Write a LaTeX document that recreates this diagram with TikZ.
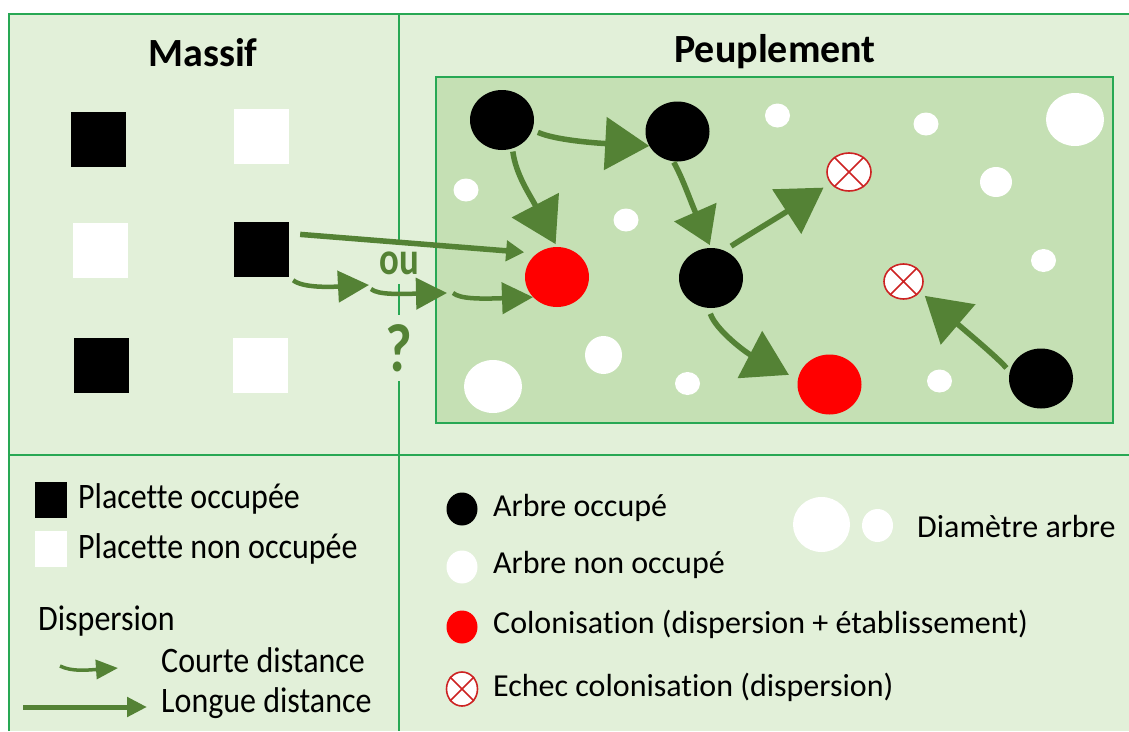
\documentclass[tikz,border=0pt]{standalone}
\usepackage{fontspec}
\setmainfont{Carlito}[Ligatures=NoCommon]
\usetikzlibrary{shapes.geometric,arrows.meta}
\definecolor{bggreen}{RGB}{226,240,217}
\definecolor{innergreen}{RGB}{197,224,180}
\definecolor{framegreen}{RGB}{40,168,84}
\definecolor{arrowgreen}{RGB}{84,130,53}
\definecolor{failred}{RGB}{205,35,35}
\tikzset{
  frameline/.style={draw=framegreen, line width=2pt},
  divline/.style={draw=framegreen, line width=1.6pt},
  tree/.style={ellipse, inner sep=0pt, minimum width=64pt, minimum height=60pt},
  occ/.style={tree, fill=black},
  colo/.style={tree, fill=red},
  freetree/.style={ellipse, inner sep=0pt, fill=white},
  fail/.style={ellipse, inner sep=0pt, fill=white, draw=failred, line width=1.6pt},
  failx/.style={draw=failred, line width=1.5pt},
  plotbox/.style={rectangle, inner sep=0pt, minimum width=55pt, minimum height=55pt},
  bigarrow/.style={color=arrowgreen, line width=5.5pt, -{Triangle[length=44pt,width=52pt]}},
  midarrow/.style={color=arrowgreen, line width=5.5pt, -{Triangle[length=36pt,width=45pt]}},
  longarrow/.style={color=arrowgreen, line width=5.5pt, -{Triangle[length=18pt,width=20pt]}},
  shortarrow/.style={color=arrowgreen, line width=4.5pt, -{Triangle[length=31pt,width=31pt]}},
  lgshort/.style={color=arrowgreen, line width=3.5pt, -{Triangle[length=22pt,width=19pt]}},
  lglong/.style={color=arrowgreen, line width=5pt, -{Triangle[length=20pt,width=19pt]}},
  title/.style={anchor=base, inner sep=0pt, font=\fontsize{40}{48}\selectfont\bfseries},
  lgtext/.style={anchor=base west, inner sep=0pt, font=\fontsize{32}{38}\selectfont},
  greenbold/.style={inner sep=0pt, fill=bggreen, text=arrowgreen, font=\bfseries}
}
\newcommand{\tallL}[1]{\scalebox{1}[1.12]{#1}}
\begin{document}
\begin{tikzpicture}[x=1pt,y=-1pt]
\useasboundingbox (0,0) rectangle (1129,731);
\fill[white] (0,0) rectangle (1129,731);
\fill[bggreen] (9,14) rectangle (1129,731);
\draw[frameline] (9,731) -- (9,14) -- (1129,14);
\draw[divline] (399,14) -- (399,731);
\draw[divline] (9,455) -- (1129,455);
\draw[framegreen, line width=1.8pt, fill=innergreen] (436,77) rectangle (1113,423);

% titles
\node[title] (tmassif) at (203,66) {Massif};
\node[title] (tpeup) at (775,62) {Peuplement};

% massif plots
\node[plotbox, fill=black] (sq1) at (98,139) {};
\node[plotbox, fill=white] (sq2) at (261.5,136) {};
\node[plotbox, fill=white] (sq3) at (100.5,250) {};
\node[plotbox, fill=black] (sq4) at (261.5,249.5) {};
\node[plotbox, fill=black] (sq5) at (101,365) {};
\node[plotbox, fill=white] (sq6) at (260.5,365) {};

% ou / ?
\node[greenbold, minimum height=42pt] (ou) at (399,263) {\scalebox{0.8}[1]{\fontsize{46}{50}\selectfont ou}};
\node[greenbold, minimum height=66pt] (qm) at (399,348) {\scalebox{0.85}[1]{\fontsize{68}{70}\selectfont ?}};

% peuplement trees
\node[occ] (b1) at (502,120) {};
\node[occ] (b2) at (677.5,131.5) {};
\node[occ] (b3) at (711,278) {};
\node[occ] (b4) at (1041,378.5) {};
\node[colo] (r1) at (557,277) {};
\node[colo] (r2) at (829.5,384.5) {};
\node[fail, minimum width=44pt, minimum height=38pt] (x1) at (849,172) {};
\draw[failx] (x1.45) -- (x1.225) (x1.135) -- (x1.-45);
\node[fail, minimum width=39pt, minimum height=35pt] (x2) at (903.5,281.5) {};
\draw[failx] (x2.45) -- (x2.225) (x2.135) -- (x2.-45);

\node[freetree, minimum width=25pt, minimum height=24pt] (w1) at (777.5,115.5) {};
\node[freetree, minimum width=25pt, minimum height=23pt] (w2) at (926,124) {};
\node[freetree, minimum width=58pt, minimum height=53pt] (w3) at (1075,119.5) {};
\node[freetree, minimum width=25pt, minimum height=23pt] (w4) at (466,190) {};
\node[freetree, minimum width=25pt, minimum height=23pt] (w5) at (626,220) {};
\node[freetree, minimum width=32pt, minimum height=30pt] (w6) at (996,182) {};
\node[freetree, minimum width=25pt, minimum height=23pt] (w7) at (1043.5,260.5) {};
\node[freetree, minimum width=37pt, minimum height=38pt] (w8) at (603.5,355) {};
\node[freetree, minimum width=58pt, minimum height=53pt] (w9) at (493,386.5) {};
\node[freetree, minimum width=25pt, minimum height=23pt] (w10) at (687.5,383.5) {};
\node[freetree, minimum width=25pt, minimum height=23pt] (w11) at (939.5,381) {};

% dispersion arrows in peuplement
\draw[bigarrow, shorten <=6pt] (b1.-18) .. controls (555,140) and (595,143) .. (b2.207);
\draw[bigarrow, shorten <=3pt, shorten >=3pt] (b1.-70) .. controls (516,175) and (530,195) .. (r1.90);
\draw[midarrow, shorten <=1pt, shorten >=3pt] (b2.-98) .. controls (683,179) and (690,200) .. (b3.90);
\draw[bigarrow, shorten <=8pt, shorten >=8pt] (b3.64) .. controls (745,237) and (780,216) .. (x1.211);
\draw[bigarrow, shorten <=6pt, shorten >=10pt] (b3.-95) .. controls (716,330) and (745,352) .. (r2.171);
\draw[bigarrow, shorten <=5pt, shorten >=6pt] (b4.168) .. controls (998,358) and (968,333) .. (x2.-32);

% massif to peuplement
\draw[longarrow, shorten <=11pt, shorten >=13pt] (sq4.30) -- (r1.130);
\coordinate (hopA) at (369,285);
\coordinate (hopB) at (371,289);
\coordinate (hopC) at (447,293);
\coordinate (hopD) at (453,293);
\draw[shortarrow, shorten <=5pt] (sq4.south east) .. controls (303,288) and (330,287) .. (hopA);
\draw[shortarrow] (hopB) .. controls (378,295) and (400,294) .. (hopC);
\draw[shortarrow] (hopD) .. controls (460,299) and (480,299) .. (r1.220);

% left legend
\node[rectangle, inner sep=0pt, minimum width=32pt, minimum height=36pt, fill=black] (lgocc) at (51,500) {};
\node[rectangle, inner sep=0pt, minimum width=32pt, minimum height=36pt, fill=white] (lgfree) at (51,549) {};
\node[lgtext] (tocc) at (78,508) {\tallL{Placette occupée}};
\node[lgtext] (tfree) at (78,558) {\tallL{Placette non occupée}};
\node[lgtext] (tdisp) at (38,630) {\tallL{Dispersion}};
\coordinate (ls1) at (60,666);
\coordinate (ls2) at (118,668);
\draw[lgshort] (ls1) .. controls (72,672) and (88,670) .. (ls2);
\node[lgtext] (tcourte) at (161,672) {\tallL{Courte distance}};
\coordinate (ll1) at (23,707);
\coordinate (ll2) at (147,707);
\draw[lglong] (ll1) -- (ll2);
\node[lgtext] (tlongue) at (161,712) {\tallL{Longue distance}};

% right legend
\node[ellipse, inner sep=0pt, minimum width=31pt, minimum height=33pt, fill=black] (lgb) at (462,509) {};
\node[lgtext] (tarb) at (493,516) {Arbre occupé};
\node[ellipse, inner sep=0pt, minimum width=31pt, minimum height=33pt, fill=white] (lgw) at (462,567) {};
\node[lgtext] (tarbn) at (493,573) {Arbre non occupé};
\node[ellipse, inner sep=0pt, minimum width=31pt, minimum height=33pt, fill=red] (lgr) at (462,627) {};
\node[lgtext] (tcol) at (493,633) {Colonisation (dispersion + établissement)};
\node[fail, minimum width=31pt, minimum height=34pt] (lgx) at (462,689) {};
\draw[failx] (lgx.45) -- (lgx.225) (lgx.135) -- (lgx.-45);
\node[lgtext] (tech) at (493,696) {Echec colonisation (dispersion)};
\node[freetree, minimum width=57pt, minimum height=55pt] (lgbig) at (821.5,524.5) {};
\node[freetree, minimum width=31pt, minimum height=33pt] (lgsmall) at (877.5,525.5) {};
\node[lgtext] (tdiam) at (917,537) {Diamètre arbre};
\end{tikzpicture}
\end{document}
